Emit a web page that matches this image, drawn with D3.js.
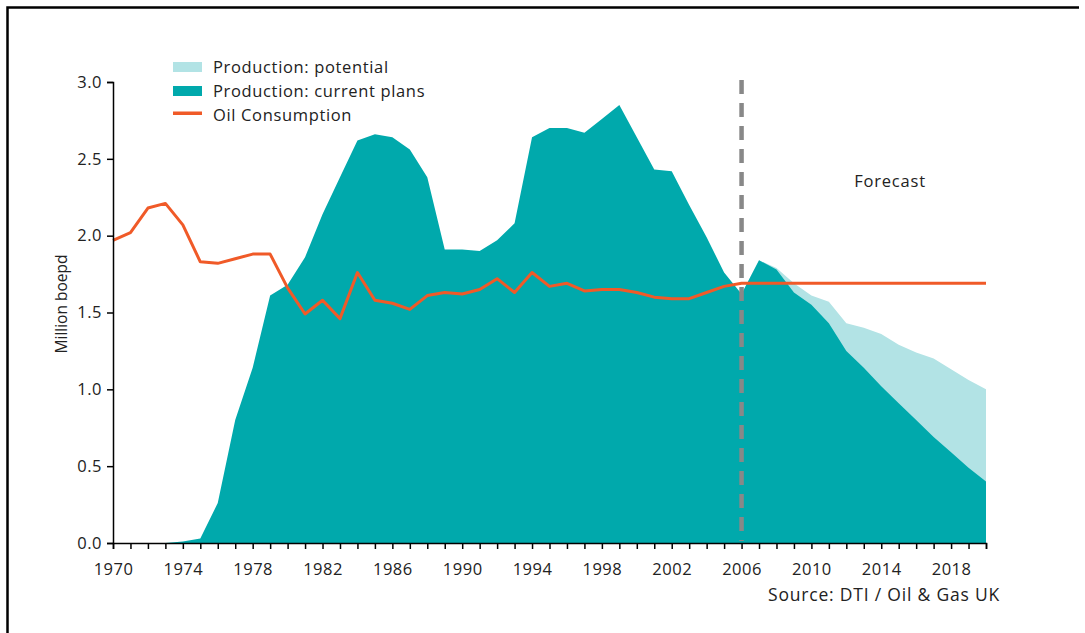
<!DOCTYPE html>
<html>
<head>
<meta charset="utf-8">
<script src="https://cdn.jsdelivr.net/npm/d3@7"></script>
<style>
	body { margin: 0; background: #fff; }
	svg text { font-family: "Open Sans", "Noto Sans", sans-serif; fill: #222; }
</style>
</head>
<body>
<svg id="chart" width="1085" height="633"></svg>
<script>
// years 1970 - 2020
var years = d3.range(1970, 2021);

// Production: current plans (million boepd)
var currentPlans = [
	0, 0, 0, 0, 0.01, 0.03, 0.26, 0.80, 1.14, 1.61,
	1.68, 1.86, 2.14, 2.38, 2.62, 2.66, 2.64, 2.56, 2.38, 1.91,
	1.91, 1.90, 1.97, 2.08, 2.64, 2.70, 2.70, 2.67, 2.76, 2.85,
	2.64, 2.43, 2.42, 2.20, 1.99, 1.76, 1.62, 1.84, 1.78, 1.63,
	1.55, 1.43, 1.25, 1.14, 1.02, 0.91, 0.80, 0.69, 0.59, 0.49,
	0.40
];

// Production: potential (forecast years only)
var potentialYears = d3.range(2006, 2021);
var potential = [
	1.62, 1.84, 1.79, 1.69, 1.61, 1.57, 1.43, 1.40, 1.36, 1.29,
	1.24, 1.20, 1.13, 1.06, 1.00
];

// Oil consumption (million boepd)
var consumption = [
	1.97, 2.02, 2.18, 2.21, 2.07, 1.83, 1.82, 1.85, 1.88, 1.88,
	1.66, 1.49, 1.58, 1.46, 1.76, 1.58, 1.56, 1.52, 1.61, 1.63,
	1.62, 1.65, 1.72, 1.63, 1.76, 1.67, 1.69, 1.64, 1.65, 1.65,
	1.63, 1.60, 1.59, 1.59, 1.63, 1.67, 1.69, 1.69, 1.69, 1.69,
	1.69, 1.69, 1.69, 1.69, 1.69, 1.69, 1.69, 1.69, 1.69, 1.69,
	1.69
];

var yTicks = [0, 0.5, 1.0, 1.5, 2.0, 2.5, 3.0];
var xLabelYears = d3.range(1970, 2019, 4);
var forecastYear = 2006;

var legendItems = [
	{ label: "Production: potential", type: "area", color: "#b2e3e5" },
	{ label: "Production: current plans", type: "area", color: "#00a9ac" },
	{ label: "Oil Consumption", type: "line", color: "#f05a28" }
];

var svg = d3.select("#chart");

// frame
svg.append("path")
	.attr("d", "M7.5,633 L7.5,7.5 L1079,7.5")
	.attr("fill", "none")
	.attr("stroke", "#000")
	.attr("stroke-width", 2.5);

var x = d3.scaleLinear().domain([1970, 2020]).range([113, 986]);
var y = d3.scaleLinear().domain([0, 3]).range([543, 82]);

var g = svg.append("g");

// potential area
var potData = potentialYears.map(function(yr, i) { return { year: yr, v: potential[i] }; });
g.append("path")
	.datum(potData)
	.attr("fill", "#b2e3e5")
	.attr("d", d3.area()
		.x(function(d) { return x(d.year); })
		.y0(y(0))
		.y1(function(d) { return y(d.v); }));

// current plans area
var curData = years.map(function(yr, i) { return { year: yr, v: currentPlans[i] }; });
g.append("path")
	.datum(curData)
	.attr("fill", "#00a9ac")
	.attr("d", d3.area()
		.x(function(d) { return x(d.year); })
		.y0(y(0))
		.y1(function(d) { return y(d.v); }));

// forecast divider
g.append("line")
	.attr("x1", x(forecastYear)).attr("x2", x(forecastYear))
	.attr("y1", 80).attr("y2", 541)
	.attr("stroke", "#888")
	.attr("stroke-width", 4.5)
	.attr("stroke-dasharray", "14,9");

// consumption line
var conData = years.map(function(yr, i) { return { year: yr, v: consumption[i] }; });
g.append("path")
	.datum(conData)
	.attr("fill", "none")
	.attr("stroke", "#f05a28")
	.attr("stroke-width", 3)
	.attr("stroke-linejoin", "round")
	.attr("d", d3.line()
		.x(function(d) { return x(d.year); })
		.y(function(d) { return y(d.v); }));

// axes
var yAxis = svg.append("g")
	.attr("transform", "translate(" + x.range()[0] + ",0)")
	.call(d3.axisLeft(y).tickValues(yTicks).tickFormat(d3.format(".1f")).tickSize(6).tickPadding(5));

var xAxis = svg.append("g")
	.attr("transform", "translate(0," + y(0) + ")")
	.call(d3.axisBottom(x).tickValues(years).tickSize(6).tickPadding(14)
		.tickFormat(function(d) { return xLabelYears.indexOf(d) >= 0 ? d : ""; }));

[yAxis, xAxis].forEach(function(a) {
	a.selectAll("path.domain").attr("stroke", "#000").attr("stroke-width", 1.5);
	a.selectAll(".tick line").attr("stroke", "#000").attr("stroke-width", 1.5);
	a.selectAll("text").attr("font-size", 16.5).attr("fill", "#222")
		.style("letter-spacing", "0.5px")
		.style("font-family", "'Open Sans', 'Noto Sans', sans-serif");
});

// y axis title
svg.append("text")
	.attr("transform", "translate(67,304) rotate(-90)")
	.attr("text-anchor", "middle")
	.attr("font-size", 15.5)
	.text("Million boepd");

// forecast label
svg.append("text")
	.attr("x", 890).attr("y", 187)
	.attr("text-anchor", "middle")
	.attr("font-size", 16.5)
	.style("letter-spacing", "0.8px")
	.text("Forecast");

// source
svg.append("text")
	.attr("x", 1000).attr("y", 601)
	.attr("text-anchor", "end")
	.attr("font-size", 17.5)
	.style("letter-spacing", "0.8px")
	.text("Source: DTI / Oil & Gas UK");

// legend
var legend = svg.append("g").attr("transform", "translate(173,60)");
legendItems.forEach(function(item, i) {
	var row = legend.append("g").attr("transform", "translate(0," + (i * 24) + ")");
	if (item.type === "area") {
		row.append("rect").attr("x", 0).attr("y", 2).attr("width", 29).attr("height", 10).attr("fill", item.color);
	} else {
		row.append("rect").attr("x", 0).attr("y", 3.5).attr("width", 29).attr("height", 3.5).attr("fill", item.color);
	}
	row.append("text")
		.attr("x", 40).attr("y", 13)
		.attr("font-size", 16.5)
		.style("letter-spacing", "0.65px")
		.text(item.label);
});
</script>
</body>
</html>
